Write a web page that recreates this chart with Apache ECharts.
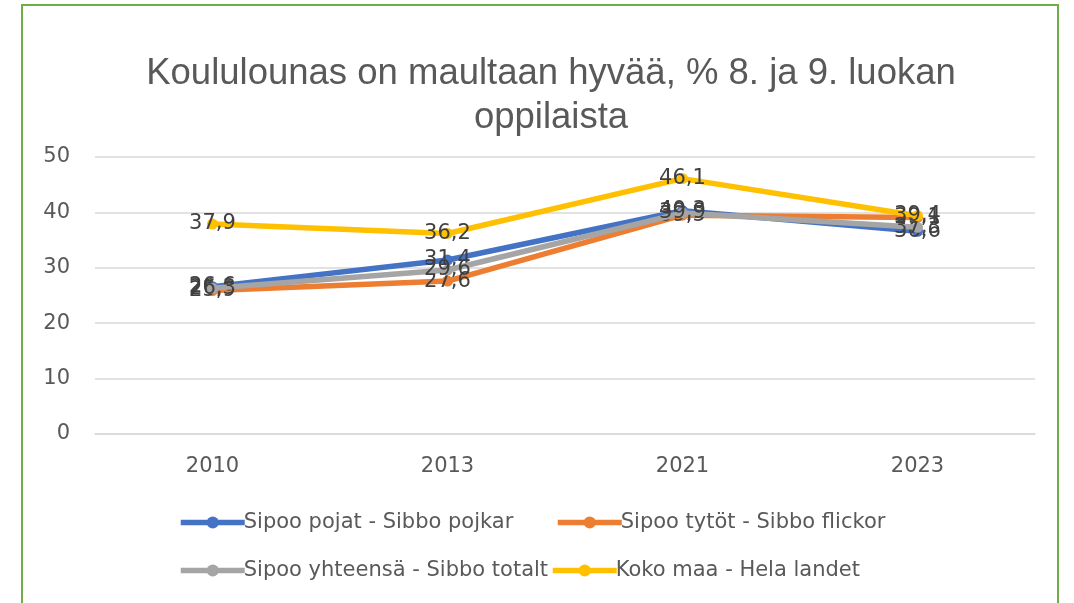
<!DOCTYPE html>
<html><head><meta charset="utf-8">
<script src="https://cdn.jsdelivr.net/npm/echarts@6/dist/echarts.min.js"></script>
<style>html,body{margin:0;padding:0;background:#fff}#c{width:1074px;height:603px}</style>
</head><body><div id="c"></div>
<script>
const categories = ['2010', '2013', '2021', '2023'];
const seriesNames = ['Sipoo pojat - Sibbo pojkar', 'Sipoo tytöt - Sibbo flickor', 'Sipoo yhteensä - Sibbo totalt', 'Koko maa - Hela landet'];
const boys = [26.6, 31.4, 40.3, 36.6];
const girls = [25.9, 27.6, 39.5, 39.1];
const total = [26.3, 29.6, 39.9, 37.3];
const country = [37.9, 36.2, 46.1, 39.4];
const colors = ['#4472C4', '#ED7D31', '#A5A5A5', '#FFC000'];
const yTicks = [0, 10, 20, 30, 40, 50];
const titleText = 'Koululounas on maultaan hyvää, % 8. ja 9. luokan\noppilaista';

const FONT = "'DejaVu Sans', sans-serif";
const chart = echarts.init(document.getElementById('c'));
const values = [boys, girls, total, country];
chart.setOption({
  animation: false,
  textStyle: { fontFamily: FONT },
  graphic: [{
    type: 'rect', shape: { x: 22, y: 5, width: 1036, height: 640 },
    style: { fill: 'none', stroke: '#70AD47', lineWidth: 2 }, silent: true
  }, {
    type: 'text', x: 551, y: 52, silent: true,
    style: {
      text: titleText, align: 'center', verticalAlign: 'top',
      font: "normal 36.5px 'Liberation Sans', Arial, sans-serif",
      lineHeight: 44, fill: '#595959'
    }
  }],
  grid: { left: 95, right: 39, top: 157, bottom: 169 },
  xAxis: {
    type: 'category', data: categories, boundaryGap: true,
    axisLine: { lineStyle: { color: '#D9D9D9', width: 1.5 } },
    axisTick: { show: false },
    axisLabel: { fontFamily: FONT, fontSize: 21, color: '#595959', margin: 22 }
  },
  yAxis: {
    type: 'value', min: yTicks[0], max: yTicks[yTicks.length - 1], interval: 10,
    axisLine: { show: false }, axisTick: { show: false },
    splitLine: { lineStyle: { color: '#D9D9D9', width: 1.5 } },
    axisLabel: { fontFamily: FONT, fontSize: 21, color: '#595959', margin: 25 }
  },
  legend: [
    { data: [seriesNames[0]], left: 173, top: 507 },
    { data: [seriesNames[1]], left: 550, top: 507 },
    { data: [seriesNames[2]], left: 173, top: 555 },
    { data: [seriesNames[3]], left: 545, top: 555 }
  ].map(l => Object.assign(l, {
    itemWidth: 64, itemHeight: 15, itemGap: 10,
    lineStyle: { width: 5.5 },
    textStyle: { fontFamily: FONT, fontSize: 21, color: '#595959', padding: [0, 0, 0, -6] }
  })),
  series: seriesNames.map((n, i) => ({
    name: n, type: 'line', data: values[i], color: colors[i],
    symbol: 'circle', symbolSize: 11,
    lineStyle: { width: 5.5, color: colors[i] },
    itemStyle: { color: colors[i] },
    z: 2 + i,
    label: {
      show: true, position: 'inside', fontFamily: FONT, fontSize: 21, color: '#404040',
      formatter: p => String(p.value).replace('.', ',')
    }
  }))
});
</script></body></html>
